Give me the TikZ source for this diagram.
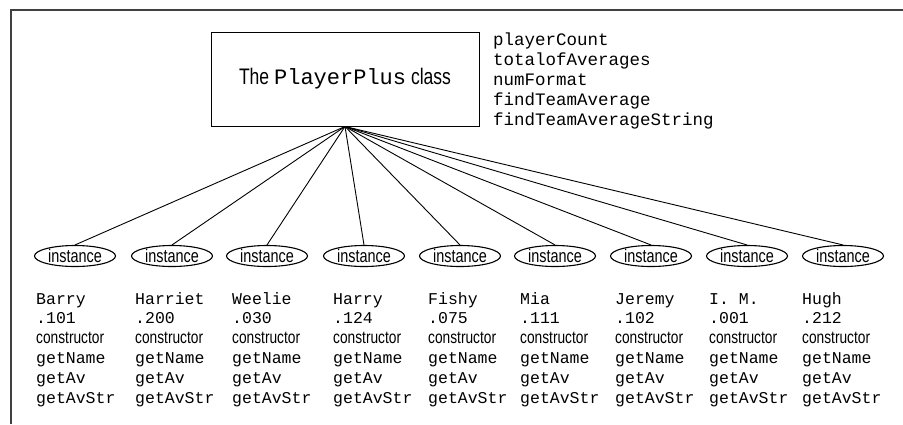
\documentclass[tikz,border=0pt]{standalone}
\usepackage{fontspec}
\setmainfont{Liberation Sans}[FakeStretch=0.78]
\setmonofont{Liberation Mono}
\usetikzlibrary{shapes.geometric}
\begin{document}
\begin{tikzpicture}[x=1pt,y=-1pt,
  framebar/.style={draw=black!75,line width=1.4pt},
  classbox/.style={draw,line width=1pt,minimum width=268pt,minimum height=94pt,inner sep=0pt},
  inst/.style={draw,ellipse,line width=1.1pt,minimum width=81pt,minimum height=21pt,inner sep=0pt,font=\fontsize{18.5}{20}\selectfont},
  link/.style={line width=0.9pt},
  mlist/.style={anchor=base west,inner sep=0pt,font=\fontsize{17.5}{18}\ttfamily},
  mcol/.style={anchor=base west,inner sep=0pt,font=\fontsize{16.5}{18}\ttfamily},
  scol/.style={anchor=base west,inner sep=0pt,font=\fontsize{17.6}{20}\selectfont}]
\useasboundingbox (0,0) rectangle (903,424);
\draw[framebar] (11,424) -- (11,10) -- (903,10);
\node[classbox] (box) at (345,79) {\fontsize{22.5}{25}\selectfont The {\fontsize{22}{24}\ttfamily PlayerPlus} class};
\node[mlist] (s1) at (493,45) {playerCount};
\node[mlist] (s2) at (493,65) {totalofAverages};
\node[mlist] (s3) at (493,85) {numFormat};
\node[mlist] (s4) at (493,105) {findTeamAverage};
\node[mlist] (s5) at (493,125) {findTeamAverageString};
\foreach \i/\cx/\tx/\nm/\av in {1/75/36/Barry/.101, 2/172/135/Harriet/.200, 3/267/232/Weelie/.030, 4/364/333/Harry/.124, 5/460/428/Fishy/.075, 6/555/520/Mia/.111, 7/651/615/Jeremy/.102, 8/747/709/I. M./.001, 9/843/802/Hugh/.212}{
  \node[inst] (i\i) at (\cx,256) {instance};
  \draw[link] (box.south) -- (i\i.north);
  \node[mcol] (n\i) at (\tx,304) {\nm};
  \node[mcol] (a\i) at (\tx,323.8) {\av};
  \node[scol] (c\i) at (\tx,343.6) {constructor};
  \node[mcol] (g\i) at (\tx,363.4) {getName};
  \node[mcol] (v\i) at (\tx,383.2) {getAv};
  \node[mcol] (t\i) at (\tx,403) {getAvStr};
}
\end{tikzpicture}
\end{document}
